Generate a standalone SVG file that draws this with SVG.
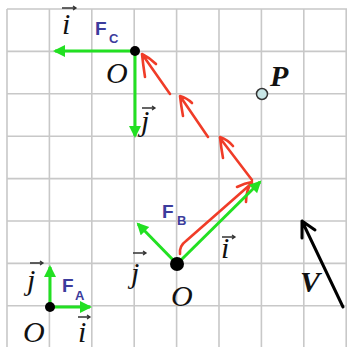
<svg xmlns="http://www.w3.org/2000/svg" width="347" height="347" viewBox="0 0 347 347">
<style>
.grid{stroke:#c8c8c8;stroke-width:1.6;fill:none}
.g{stroke:#22e022;stroke-width:3;fill:none}
.r{stroke:#f03c28;stroke-width:2.6;fill:none;stroke-linecap:round;stroke-linejoin:round}
.k{stroke:#000;stroke-width:3;fill:none;stroke-linecap:round;stroke-linejoin:round}
.var{font-family:"Liberation Serif",serif;font-style:italic;font-size:30px;fill:#111}
.bvar{font-family:"Liberation Serif",serif;font-style:italic;font-weight:bold;font-size:30px;fill:#111}
.F{font-family:"Liberation Sans",sans-serif;font-weight:bold;font-size:19px;fill:#3c3c9c}
.sub{font-size:13px}
.vec{stroke:#333;stroke-width:1.3;fill:none}
.dot{fill:#000}
</style>
<defs>
<marker id="gh" markerUnits="userSpaceOnUse" markerWidth="14" markerHeight="14" refX="10" refY="6" orient="auto"><path d="M0,0 L12,6 L0,12 z" fill="#22e022"/></marker>
</defs>
<rect width="347" height="347" fill="#fff"/>
<g id="grid" class="grid">
<path d="M7,9V347M49.4,9V347M91.8,9V347M134.2,9V347M176.6,9V347M219,9V347M261.4,9V347M303.8,9V347M346.2,9V347"/>
<path d="M7,9H347M7,51.4H347M7,93.8H347M7,136.2H347M7,178.6H347M7,221H347M7,263.4H347M7,305.8H347"/>
</g>
<g id="connectors">
<path class="r" d="M170,94 L142,54 M145,77 Q143,64 142,54 Q150,58 156,64"/>
<path class="r" d="M208,137 L180,96 M183,116 Q181,105 180,96 Q187,98 192,103"/>
<path class="r" d="M252,180 L220,138 M223,158 Q221,147 220,137 Q228,140 233,146"/>
<path class="r" d="M180,254 Q179,246 186,241 L252,183 M237,187 Q245,183 252,182 Q246,190 246,202"/>
<path class="k" d="M343,307 L302,221 M302,238 L302,221 L315,230"/>
</g>
<g id="frameC">
<path class="g" d="M135,51 L55,51" marker-end="url(#gh)"/>
<path class="g" d="M135,51 L135,136" marker-end="url(#gh)"/>
<circle class="dot" cx="135" cy="51" r="5"/>
<text class="var" x="62" y="34">i</text>
<path class="vec" d="M62,8H76M73,6L76,8L73,10"/>
<text class="F" x="95" y="35">F<tspan class="sub" x="109" y="43">C</tspan></text>
<text class="var" x="106" y="83">O</text>
<text class="var" x="141" y="131">j</text>
<path class="vec" d="M142,108H155M152,106L155,108L152,110"/>
</g>
<g id="P">
<circle cx="262" cy="94" r="5.5" fill="#c8e6e6" stroke="#333" stroke-width="1.5"/>
<text class="bvar" x="270" y="86">P</text>
</g>
<g id="frameB">
<path class="g" d="M177,264 L260,182" marker-end="url(#gh)"/>
<path class="g" d="M177,264 L138,224" marker-end="url(#gh)"/>
<circle class="dot" cx="177" cy="264" r="7"/>
<text class="F" x="162" y="218">F<tspan class="sub" x="177" y="225">B</tspan></text>
<text class="var" x="131" y="283">j</text>
<path class="vec" d="M133,253H146M143,251L146,253L143,255"/>
<text class="var" x="171" y="306">O</text>
<text class="var" x="221" y="258">i</text>
<path class="vec" d="M222,237H235M232,235L235,237L232,239"/>
</g>
<g id="frameA">
<path class="g" d="M50,307 L50,267" marker-end="url(#gh)"/>
<path class="g" d="M50,307 L90,307" marker-end="url(#gh)"/>
<circle class="dot" cx="50" cy="307" r="5"/>
<text class="var" x="27" y="290">j</text>
<path class="vec" d="M30,263H43M40,261L43,263L40,265"/>
<text class="F" x="62" y="292">F<tspan class="sub" x="75" y="300">A</tspan></text>
<text class="var" x="23" y="342">O</text>
<text class="var" x="78" y="342">i</text>
<path class="vec" d="M78,317H90M87,315L90,317L87,319"/>
</g>
<g id="V">
<text class="bvar" x="300" y="292">V</text>
</g>
</svg>
